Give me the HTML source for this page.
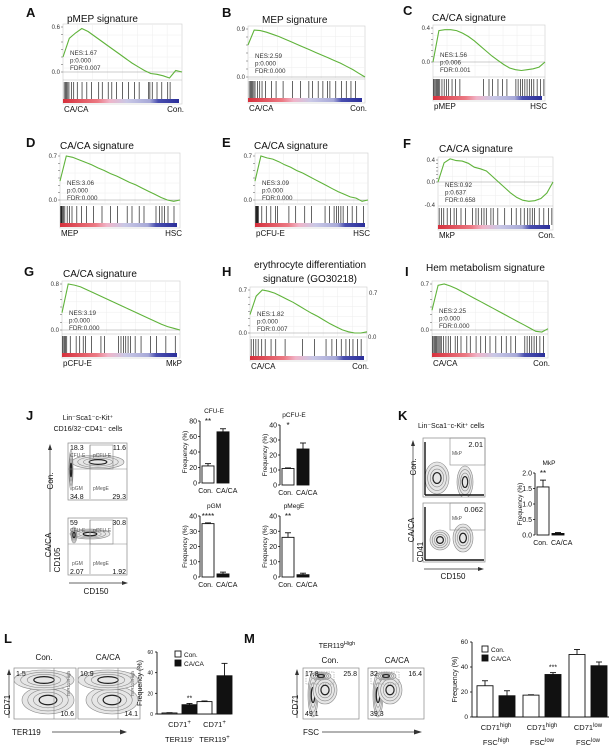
<!DOCTYPE html>
<html><head><meta charset="utf-8">
<style>
html,body{margin:0;padding:0;background:#fff;}
svg{display:block;font-family:"Liberation Sans",Arial,sans-serif;}
</style></head>
<body>
<svg id="fig" width="609" height="750" viewBox="0 0 609 750" xmlns="http://www.w3.org/2000/svg"></svg>
<script>
// ---------- GSEA data ----------
const esA=[0.2,0.45,0.52,0.58,0.54,0.48,0.42,0.36,0.30,0.24,0.18,0.12,0.07,0.02,-0.02,-0.03,-0.05,-0.08,0.02,0.0];
const esB=[0.6,0.88,0.87,0.84,0.80,0.76,0.71,0.66,0.61,0.56,0.51,0.46,0.41,0.36,0.31,0.26,0.20,0.14,0.07,0.0];
const esC=[0.0,0.37,0.38,0.38,0.37,0.34,0.30,0.25,0.19,0.13,0.07,0.02,-0.03,-0.07,-0.09,-0.10,-0.09,-0.08,-0.06,0.0];
const esD=[0.3,0.70,0.68,0.64,0.60,0.56,0.51,0.47,0.42,0.38,0.33,0.28,0.24,0.19,0.14,0.09,0.04,0.0,-0.02,0.0];
const esE=[0.3,0.70,0.67,0.65,0.61,0.56,0.52,0.47,0.43,0.38,0.33,0.28,0.23,0.18,0.13,0.09,0.05,0.03,-0.02,0.0];
const esF=[0.0,0.35,0.42,0.39,0.38,0.34,0.27,0.24,0.20,0.10,0.0,-0.10,-0.20,-0.28,-0.33,-0.35,-0.34,-0.30,-0.20,0.0];
const esG=[0.3,0.80,0.78,0.75,0.70,0.65,0.60,0.55,0.50,0.45,0.40,0.35,0.30,0.25,0.20,0.15,0.10,0.06,0.03,0.0];
const esH=[0.3,0.60,0.70,0.68,0.65,0.60,0.55,0.50,0.44,0.38,0.32,0.27,0.21,0.15,0.10,0.05,0.02,0.0,0.0,0.02];
const esI=[0.3,0.68,0.70,0.67,0.63,0.58,0.53,0.48,0.43,0.38,0.33,0.28,0.23,0.18,0.13,0.08,0.03,-0.02,-0.03,0.02];
const hitsA=[0.01,0.02,0.03,0.04,0.05,0.07,0.09,0.12,0.16,0.2,0.24,0.3,0.33,0.38,0.41,0.45,0.5,0.55,0.6,0.64,0.72,0.73,0.75,0.79,0.83,0.88,0.9];
const hitsB=[0.01,0.02,0.03,0.04,0.05,0.06,0.08,0.1,0.12,0.15,0.2,0.24,0.3,0.38,0.45,0.52,0.55,0.6,0.64,0.68,0.7,0.75,0.8,0.84,0.88,0.92];
const hitsC=[0.005,0.01,0.02,0.03,0.04,0.05,0.06,0.08,0.1,0.12,0.14,0.17,0.2,0.24,0.45,0.5,0.53,0.58,0.62,0.66,0.74,0.76,0.78,0.8,0.82,0.84,0.86,0.88,0.9,0.93,0.96,0.99];
const hitsD=[0.005,0.01,0.015,0.02,0.03,0.04,0.06,0.08,0.1,0.14,0.18,0.22,0.28,0.35,0.42,0.48,0.56,0.6,0.66,0.7,0.8,0.83,0.85,0.87,0.9,0.95];
const hitsE=[0.005,0.01,0.015,0.02,0.025,0.03,0.06,0.1,0.14,0.18,0.2,0.3,0.36,0.44,0.5,0.62,0.66,0.7,0.72,0.74,0.76,0.78,0.82,0.86,0.9,0.96];
const hitsF=[0.01,0.03,0.05,0.08,0.11,0.14,0.16,0.2,0.24,0.3,0.33,0.35,0.38,0.4,0.42,0.46,0.48,0.52,0.58,0.64,0.68,0.72,0.75,0.78,0.8,0.82,0.84,0.88,0.92,0.96,0.99];
const hitsG=[0.005,0.01,0.02,0.03,0.04,0.07,0.12,0.15,0.18,0.2,0.25,0.33,0.36,0.48,0.5,0.52,0.54,0.56,0.58,0.62,0.67,0.75,0.8,0.88,0.96];
const hitsH=[0.01,0.03,0.05,0.07,0.1,0.13,0.18,0.22,0.3,0.45,0.55,0.65,0.7,0.74,0.78,0.82,0.85,0.88,0.92,0.95];
const hitsI=[0.005,0.01,0.02,0.03,0.04,0.05,0.06,0.07,0.08,0.1,0.12,0.14,0.16,0.2,0.22,0.25,0.3,0.33,0.38,0.42,0.46,0.5,0.55,0.6,0.64,0.68,0.72,0.8,0.82,0.84,0.86,0.88,0.9,0.93,0.96];

// ---------- bar chart data ----------
const jCats=["Con.","CA/CA"];
const cfuE=[22,66], cfuEErr=[3,4];
const pcfuE=[11,24], pcfuEErr=[0.4,4];
const pGM=[35,2], pGMErr=[0.5,1.2];
const pMegE=[26,1.5], pMegEErr=[3,1];
const mkp=[1.55,0.05], mkpErr=[0.22,0.03];
const lGroups=["CD71+ TER119-","CD71+ TER119+"];
const lCon=[1,12], lConErr=[0.3,0.6];
const lCA=[9,37], lCAErr=[1.2,12];
const mGroups=["CD71high FSChigh","CD71high FSClow","CD71low FSClow"];
const mCon=[25,17.5,50], mConErr=[4,0.3,4];
const mCA=[17,34,41], mCAErr=[4,1.5,3];

const NS="http://www.w3.org/2000/svg";
const svg=document.getElementById('fig');
function el(tag,attrs,parent,txt){const e=document.createElementNS(NS,tag);for(const k in attrs)e.setAttribute(k,attrs[k]);if(txt!==undefined)e.textContent=txt;(parent||svg).appendChild(e);return e;}
function grp(name){const g=el('g',{});


return g;}
function txt(g,x,y,s,size,opt){opt=opt||{};const t=el('text',{x:x,y:y,'font-size':size,fill:opt.fill||'#111','text-anchor':opt.anchor||'start','font-weight':opt.bold?'bold':'normal'},g,s);
if(opt.rot)t.setAttribute('transform','rotate(-90 '+x+' '+y+')');


return t;}
function letter(x,y,s){const t=txt(svg,x,y,s,13,{bold:true});}

const defs=el('defs',{});
const lg=el('linearGradient',{id:'rb',x1:0,x2:1,y1:0,y2:0},defs);
[['0','#d6303c'],['0.3','#ec7a84'],['0.4','#f0b4c8'],['0.55','#c9c8e6'],['0.75','#a7a9d8'],['0.82','#4a4fb0'],['1','#2b2f9a']].forEach(s=>el('stop',{offset:s[0],'stop-color':s[1]},lg));

function gsea(id,p,es,hits){
  const g=grp('gsea-panel-'+id);
  const vmin=-(p.B-p.Z)/(p.Z-p.T)*p.vmax;
  const ys=v=>p.Z-(v/p.vmax)*(p.Z-p.T);
  const xs=f=>p.L+f*(p.R-p.L);
  el('rect',{x:p.L,y:p.T-3,width:p.R-p.L,height:p.B+25-(p.T-3),fill:'#fff',stroke:'#ccc','stroke-width':0.6},g);
  for(let i=1;i<8;i++){el('line',{x1:xs(i/8),x2:xs(i/8),y1:p.T-3,y2:p.B,stroke:'#eee','stroke-width':0.5},g);}
  for(let i=1;i<5;i++){const yy=p.T-3+(p.B-p.T+3)*i/5;el('line',{x1:p.L,x2:p.R,y1:yy,y2:yy,stroke:'#eee','stroke-width':0.5},g);}
  el('line',{x1:p.L,x2:p.R,y1:p.Z,y2:p.Z,stroke:'#999','stroke-width':0.6},g);
  el('line',{x1:p.L,x2:p.R,y1:p.B+1,y2:p.B+1,stroke:'#bbb','stroke-width':0.5},g);
  for(let i=0;i<=6;i++){const yy=p.T+(p.Z-p.T)*i/6;el('line',{x1:p.L-2,x2:p.L,y1:yy,y2:yy,stroke:'#555','stroke-width':0.5},g);}
  txt(g,p.L-3,p.T+2,p.vmax.toFixed(1),6,{anchor:'end',fill:'#333',name:'y-tick-max'});
  txt(g,p.L-3,p.Z+2,'0.0',6,{anchor:'end',fill:'#333',name:'y-tick-zero'});
  if(p.neg){txt(g,p.L-3,p.B+2,p.neg,6,{anchor:'end',fill:'#333',name:'y-tick-min'});}
  if(p.right){txt(g,p.R+2,p.T+5,p.vmax.toFixed(1),6,{fill:'#333',name:'y2-tick-max'});txt(g,p.R+1,p.Z+6,'0.0',6,{fill:'#333',name:'y2-tick-zero'});}
  const pts=es.map((v,i)=>xs(i/(es.length-1)).toFixed(1)+','+ys(Math.max(vmin,v)).toFixed(1)).join(' ');
  const c=el('polyline',{points:pts,fill:'none',stroke:'#5fb33a','stroke-width':1.1},g);
  
  
  hits.forEach(f=>{const h=el('line',{x1:xs(f),x2:xs(f),y1:p.B+3,y2:p.B+20,stroke:'#222','stroke-width':0.7},g);
    
    });
  const cb=el('rect',{x:p.L,y:p.B+20,width:p.R-p.L-3,height:4,fill:'url(#rb)'},g);
  
  
  txt(g,p.L+7,p.statY,'NES:'+p.nes,6.3,{fill:'#333',name:'nes-value'});
  txt(g,p.L+7,p.statY+7.5,'p:'+p.pv,6.3,{fill:'#333',name:'p-value'});
  txt(g,p.L+7,p.statY+15,'FDR:'+p.fdr,6.3,{fill:'#333',name:'fdr-value'});
  txt(g,p.L+1,p.B+33,p.left,8,{name:'left-phenotype'});
  txt(g,p.R+2,p.B+33,p.rightL,8,{anchor:'end',name:'right-phenotype'});
  if(p.title2){txt(g,p.tx,p.ty-14,p.title,10,{anchor:'middle',name:'panel-title'});txt(g,p.tx,p.ty,p.title2,10,{anchor:'middle',name:'panel-title-2'});}
  else txt(g,p.tx,p.ty,p.title,10,{name:'panel-title'});
}
letter(26,17,'A');letter(222,17,'B');letter(403,15,'C');
letter(26,147,'D');letter(222,147,'E');letter(403,148,'F');
letter(24,276,'G');letter(222,276,'H');letter(405,276,'I');
gsea('a',{L:63,R:182,T:27,Z:72,B:79,vmax:0.6,statY:55,nes:'1.67',pv:'0.000',fdr:'0.007',left:'CA/CA',rightL:'Con.',title:'pMEP signature',tx:67,ty:22},esA,hitsA);
gsea('b',{L:248,R:365,T:29,Z:77,B:78,vmax:0.9,statY:58,nes:'2.59',pv:'0.000',fdr:'0.000',left:'CA/CA',rightL:'Con.',title:'MEP signature',tx:262,ty:23},esB,hitsB);
gsea('c',{L:433,R:545,T:28,Z:62,B:76,vmax:0.4,statY:57,nes:'1.56',pv:'0.006',fdr:'0.001',left:'pMEP',rightL:'HSC',title:'CA/CA signature',tx:432,ty:21},esC,hitsC);
gsea('d',{L:60,R:180,T:156,Z:200,B:203,vmax:0.7,statY:185,nes:'3.06',pv:'0.000',fdr:'0.000',left:'MEP',rightL:'HSC',title:'CA/CA signature',tx:60,ty:149},esD,hitsD);
gsea('e',{L:255,R:368,T:156,Z:200,B:203,vmax:0.7,statY:185,nes:'3.09',pv:'0.000',fdr:'0.000',left:'pCFU-E',rightL:'HSC',title:'CA/CA signature',tx:254,ty:149},esE,hitsE);
gsea('f',{L:438,R:553,T:160,Z:182,B:205,vmax:0.4,neg:'-0.4',statY:187,nes:'0.92',pv:'0.637',fdr:'0.658',left:'MkP',rightL:'Con.',title:'CA/CA signature',tx:439,ty:152},esF,hitsF);
gsea('g',{L:62,R:180,T:284,Z:330,B:333,vmax:0.8,statY:315,nes:'3.19',pv:'0.000',fdr:'0.000',left:'pCFU-E',rightL:'MkP',title:'CA/CA signature',tx:63,ty:277},esG,hitsG);
gsea('h',{L:250,R:367,T:290,Z:333,B:336,vmax:0.7,right:true,statY:316,nes:'1.82',pv:'0.000',fdr:'0.007',left:'CA/CA',rightL:'Con.',title:'erythrocyte differentiation',title2:'signature (GO30218)',tx:310,ty:282},esH,hitsH);
gsea('i',{L:432,R:548,T:284,Z:330,B:333,vmax:0.7,statY:313,nes:'2.25',pv:'0.000',fdr:'0.000',left:'CA/CA',rightL:'Con.',title:'Hem metabolism signature',tx:426,ty:271},esI,hitsI);

// ---------- flow plots ----------
function flow(name,x,y,w,h,blobs){
  const g=grp(name);
  el('rect',{x:x,y:y,width:w,height:h,fill:'#fff',stroke:'#888','stroke-width':0.7},g);
  const cp=el('clipPath',{id:'c'+name},defs);el('rect',{x:x,y:y,width:w,height:h},cp);
  const inner=el('g',{'clip-path':'url(#c'+name+')'},g);
  blobs.forEach(b=>{for(let k=0;k<4;k++){el('ellipse',{cx:b[0],cy:b[1],rx:b[2]*(1-k*0.22),ry:b[3]*(1-k*0.22),fill:k==0?'#e6e6e6':'none',stroke:k==3?'#222':'#888','stroke-width':k==3?1.2:0.6},inner);}});
  return g;
}
letter(26,420,'J');
txt(svg,88,420,'Lin⁻Sca1⁻c-Kit⁺',7,{anchor:'middle',name:'j-population-label'});
txt(svg,88,431,'CD16/32⁻CD41⁻ cells',7,{anchor:'middle',name:'j-population-label-2'});
function jflow(name,y,n){
  const g=flow(name,68,y,59,57,n[4]);
  el('line',{x1:68,x2:127,y1:y+26,y2:y+26,stroke:'#888','stroke-width':0.6},g);
  el('line',{x1:90,x2:90,y1:y+2,y2:y+56,stroke:'#888','stroke-width':0.6},g);
  el('rect',{x:90,y:y+2,width:23,height:24,fill:'none',stroke:'#888','stroke-width':0.6},g);
  txt(g,70,y+7,n[0],7,{name:'q-ul'});txt(g,126,y+7,n[1],7,{anchor:'end',name:'q-ur'});
  txt(g,70,y+56,n[2],7,{name:'q-ll'});txt(g,126,y+56,n[3],7,{anchor:'end',name:'q-lr'});
  txt(g,70,y+14,'CFU-E',5,{fill:'#555',name:'gate-cfue'});txt(g,93,y+14,'pCFU-E',5,{fill:'#555',name:'gate-pcfue'});
  txt(g,72,y+47,'pGM',5,{fill:'#555',name:'gate-pgm'});txt(g,93,y+47,'pMegE',5,{fill:'#555',name:'gate-pmege'});
}
jflow('j-flow-con',443,['18.3','11.6','34.8','29.3',[[98,462,26,7],[71,470,2,20]]]);
jflow('j-flow-caca',518,['59','30.8','2.07','1.92',[[90,534,20,5],[74,535,3,8]]]);
el('line',{x1:50,x2:50,y1:572,y2:447,stroke:'#333','stroke-width':0.7});
el('polygon',{points:'48,450 50,444 52,450',fill:'#333'});
txt(svg,53,481,'Con.',8,{rot:true,anchor:'middle',name:'row-label-con'});
txt(svg,51,545,'CA/CA',8,{rot:true,anchor:'middle',name:'row-label-caca'});
txt(svg,60,560,'CD105',8,{rot:true,anchor:'middle',name:'y-axis-cd105'});
el('line',{x1:69,x2:124,y1:583,y2:583,stroke:'#333','stroke-width':0.7});
el('polygon',{points:'122,581 128,583 122,585',fill:'#333'});
txt(svg,96,594,'CD150',8,{anchor:'middle',name:'x-axis-cd150'});

// ---------- bar charts ----------
function barChart(name,ax,base,top,vmax,ticks,vals,errs,title,star,fmt){
  const g=grp(name);
  const ys=v=>base-(v/vmax)*(base-top);
  el('line',{x1:ax,x2:ax,y1:top,y2:base,stroke:'#111','stroke-width':0.9},g);
  ticks.forEach(t=>{el('line',{x1:ax-2,x2:ax,y1:ys(t),y2:ys(t),stroke:'#111','stroke-width':0.8},g);
    txt(g,ax-3,ys(t)+2.5,fmt?t.toFixed(1):String(t),7,{anchor:'end',name:'y-tick'});});
  vals.forEach((v,i)=>{const x=ax+2+i*15;
    const r=el('rect',{x:x,y:ys(v),width:12,height:base-ys(v),fill:i?'#111':'#fff',stroke:'#111','stroke-width':0.9},g);
    
    
    el('line',{x1:x+6,x2:x+6,y1:ys(v),y2:ys(v+errs[i]),stroke:'#111','stroke-width':0.9},g);
    el('line',{x1:x+3,x2:x+9,y1:ys(v+errs[i]),y2:ys(v+errs[i]),stroke:'#111','stroke-width':0.9},g);});
  txt(g,ax+13,base+10,jCats[0],7,{anchor:'end',name:'x-label-con'});
  txt(g,ax+16,base+10,jCats[1],7,{name:'x-label-caca'});
  txt(g,ax-13,(base+top)/2,'Frequency (%)',6.5,{rot:true,anchor:'middle',name:'y-axis-title'});
  txt(g,ax+14,top-8,title,6.5,{anchor:'middle',name:'chart-title'});
  txt(g,ax+8,top+3,star,8,{anchor:'middle',name:'significance'});
}
barChart('cfue-chart',200,483,421,80,[0,20,40,60,80],cfuE,cfuEErr,'CFU-E','**');
barChart('pcfue-chart',280,485,425,40,[0,10,20,30,40],pcfuE,pcfuEErr,'pCFU-E','*');
barChart('pgm-chart',200,577,516,40,[0,10,20,30,40],pGM,pGMErr,'pGM','****');
barChart('pmege-chart',280,577,516,40,[0,10,20,30,40],pMegE,pMegEErr,'pMegE','**');

// K
letter(398,420,'K');
txt(svg,418,428,'Lin⁻Sca1⁻c-Kit⁺ cells',7,{name:'k-population-label'});
function kflow(name,y,val,bl){
  const g=flow(name,423,y,62,59,bl);
  el('rect',{x:450,y:y,width:35,height:27,fill:'none',stroke:'#888','stroke-width':0.6},g);
  el('line',{x1:425,x2:425,y1:y+4,y2:y+57,stroke:'#111','stroke-width':1.4},g);
  el('line',{x1:425,x2:484,y1:y+57,y2:y+57,stroke:'#111','stroke-width':1.4},g);
  txt(g,483,y+9,val,7.5,{anchor:'end',name:'mkp-percent'});
  txt(g,452,y+17,'MkP',5,{fill:'#555',name:'gate-mkp'});
}
kflow('k-flow-con',438,'2.01',[[437,478,12,16],[465,482,8,16]]);
kflow('k-flow-caca',503,'0.062',[[440,540,10,10],[463,538,10,14]]);
el('line',{x1:413,x2:413,y1:562,y2:443,stroke:'#333','stroke-width':0.7});
el('polygon',{points:'411,446 413,440 415,446',fill:'#333'});
txt(svg,416,467,'Con.',8,{rot:true,anchor:'middle',name:'k-row-con'});
txt(svg,414,530,'CA/CA',8,{rot:true,anchor:'middle',name:'k-row-caca'});
txt(svg,423,552,'CD41',8,{rot:true,anchor:'middle',name:'y-axis-cd41'});
el('line',{x1:424,x2:480,y1:569,y2:569,stroke:'#333','stroke-width':0.7});
el('polygon',{points:'478,567 484,569 478,571',fill:'#333'});
txt(svg,453,579,'CD150',8,{anchor:'middle',name:'k-x-axis-cd150'});
barChart('mkp-chart',535,535,473,2.0,[0,0.5,1.0,1.5,2.0],mkp,mkpErr,'MkP','**',true);

// ---------- L ----------
letter(4,643,'L');
function lflow(name,x,n){
  const g=flow(name,x,668,62,51,[[x+34,700,26,14],[x+30,680,30,10]]);
  el('line',{x1:x+40,x2:x+40,y1:668,y2:719,stroke:'#888','stroke-width':0.6},g);
  txt(g,x+2,676,n[0],7,{name:'q-ul'});txt(g,x+60,716,n[1],7,{anchor:'end',name:'q-lr'});
  txt(g,x+56,671,'TER119High',4.5,{rot:true,anchor:'end',fill:'#555',name:'gate-ter119high'});
}
lflow('l-flow-con',14,['1.5','10.6']);
lflow('l-flow-caca',78,['10.9','14.1']);
txt(svg,44,660,'Con.',8,{anchor:'middle',name:'l-col-con'});
txt(svg,108,660,'CA/CA',8,{anchor:'middle',name:'l-col-caca'});
el('line',{x1:9,x2:9,y1:718,y2:672,stroke:'#333','stroke-width':0.7});
el('polygon',{points:'7,675 9,669 11,675',fill:'#333'});
txt(svg,10,705,'CD71',8,{rot:true,anchor:'middle',name:'l-y-axis-cd71'});
txt(svg,12,735,'TER119',8,{name:'l-x-axis-ter119'});
el('line',{x1:52,x2:125,y1:732,y2:732,stroke:'#333','stroke-width':0.7});
el('polygon',{points:'120,729.5 127,732 120,734.5',fill:'#333'});

function groupChart(name,ax,base,top,vmax,ticks,con,conE,ca,caE,gw,bw,gap,labels,stars,legX,legY,tfs){
  const g=grp(name);
  const ys=v=>base-(v/vmax)*(base-top);
  el('line',{x1:ax,x2:ax,y1:top,y2:base,stroke:'#111','stroke-width':0.9},g);
  el('line',{x1:ax,x2:ax+gw*con.length+4,y1:base,y2:base,stroke:'#111','stroke-width':0.9},g);
  ticks.forEach(t=>{el('line',{x1:ax-2,x2:ax,y1:ys(t),y2:ys(t),stroke:'#111','stroke-width':0.8},g);
    txt(g,ax-4,ys(t)+2,String(t),tfs,{anchor:'end',name:'y-tick'});});
  const draw=(v,e,x,fill,nm)=>{const r=el('rect',{x:x,y:ys(v),width:bw,height:base-ys(v),fill:fill,stroke:'#111','stroke-width':0.9},g);
    
    
    el('line',{x1:x+bw/2,x2:x+bw/2,y1:ys(v),y2:ys(v+e),stroke:'#111','stroke-width':0.9},g);
    el('line',{x1:x+bw/2-3,x2:x+bw/2+3,y1:ys(v+e),y2:ys(v+e),stroke:'#111','stroke-width':0.9},g);};
  con.forEach((v,i)=>{const x0=ax+5+i*gw;draw(v,conE[i],x0,'#fff','bar-con-'+i);draw(ca[i],caE[i],x0+bw+gap,'#111','bar-caca-'+i);
    const cx=x0+bw+gap/2;const lp=labels[i].split(' ');
    const m1=lp[0].match(/^(CD71)(.*)$/), m2=lp[1].match(/^(TER119|FSC)(.*)$/);
    const t1=txt(g,cx,base+13,'',7.5,{anchor:'middle',name:'group-label'});
    el('tspan',{},t1,m1[1]);el('tspan',{dy:-3,'font-size':6},t1,m1[2]);
    const t2=txt(g,cx,base+28,'',7.5,{anchor:'middle',name:'group-label-2'});
    el('tspan',{},t2,m2[1]);el('tspan',{dy:-3,'font-size':6},t2,m2[2]);
    if(stars[i])txt(g,x0+bw+gap+bw/2,ys(ca[i]+caE[i])-3,stars[i],7,{anchor:'middle',name:'significance'});});
  el('rect',{x:legX,y:legY,width:6,height:6,fill:'#fff',stroke:'#111','stroke-width':0.9},g);
  el('rect',{x:legX,y:legY+9,width:6,height:6,fill:'#111',stroke:'#111','stroke-width':0.9},g);
  txt(g,legX+9,legY+6,'Con.',6.5,{name:'legend-con'});
  txt(g,legX+9,legY+15,'CA/CA',6.5,{name:'legend-caca'});
  txt(g,ax-15,(base+top)/2,'Frequency (%)',7,{rot:true,anchor:'middle',name:'y-axis-title'});
}
groupChart('l-chart',157,714,652,60,[0,20,40,60],lCon,lConErr,lCA,lCAErr,35,15,5,lGroups,['**',''],175,651,5);

// ---------- M ----------
letter(244,643,'M');
const th=txt(svg,337,648,'TER119',7,{anchor:'middle',name:'m-gate-title'});
el('tspan',{dy:-3,'font-size':5.5},th,'High');
function mflow(name,x,n){
  const g=flow(name,x,668,56,51,[[x+10,695,5,22],[x+22,690,12,14],[x+18,676,10,4]]);
  el('rect',{x:x+3,y:672,width:28,height:12,fill:'none',stroke:'#888','stroke-width':0.5,'stroke-dasharray':'1.5,1'},g);
  txt(g,x+2,676,n[0],7,{name:'q-ul'});txt(g,x+54,676,n[1],7,{anchor:'end',name:'q-ur'});
  txt(g,x+2,716,n[2],7,{name:'q-ll'});
}
mflow('m-flow-con',303,['17.8','25.8','49.1']);
mflow('m-flow-caca',368,['32','16.4','39.3']);
txt(svg,330,663,'Con.',8,{anchor:'middle',name:'m-col-con'});
txt(svg,397,663,'CA/CA',8,{anchor:'middle',name:'m-col-caca'});
el('line',{x1:297,x2:297,y1:718,y2:672,stroke:'#333','stroke-width':0.7});
el('polygon',{points:'295,675 297,669 299,675',fill:'#333'});
txt(svg,298,705,'CD71',8,{rot:true,anchor:'middle',name:'m-y-axis-cd71'});
txt(svg,303,735,'FSC',8,{name:'m-x-axis-fsc'});
el('line',{x1:322,x2:420,y1:732,y2:732,stroke:'#333','stroke-width':0.7});
el('polygon',{points:'414,729.5 422,732 414,734.5',fill:'#333'});
groupChart('m-chart',472,717,642,60,[0,20,40,60],mCon,mConErr,mCA,mCAErr,46,16,6,mGroups,['','***',''],482,646,6.5);
</script>
</body></html>
